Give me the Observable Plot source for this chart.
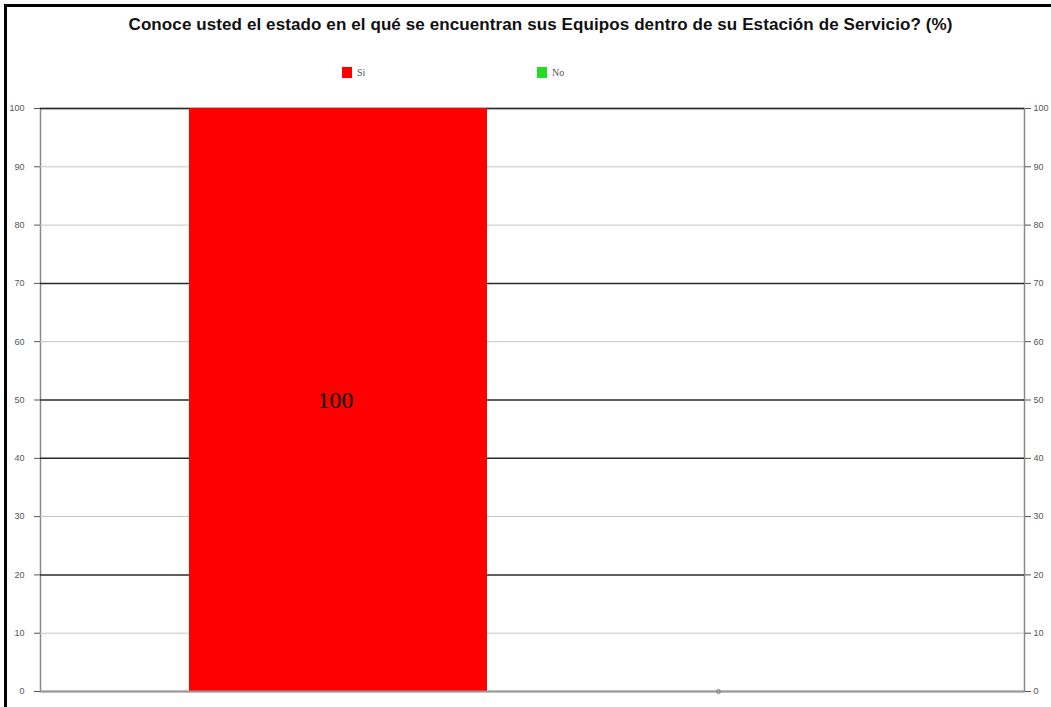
<!DOCTYPE html>
<html>
<head>
<meta charset="utf-8">
<script src="https://cdn.jsdelivr.net/npm/d3@7"></script>
<script src="https://cdn.jsdelivr.net/npm/@observablehq/plot@0.6"></script>
<style>
  html, body { margin: 0; padding: 0; background: #fff; }
  #wrap { position: relative; width: 1051px; height: 707px; overflow: hidden; background: #fff; }
  #border { position: absolute; left: 4px; top: 4px; right: -10px; bottom: -10px; border-left: 3px solid #000; border-top: 3px solid #000; pointer-events: none; }
  #title { position: absolute; top: 15px; left: 30px; width: 1021px; text-align: center; font: bold 17px "Liberation Sans", Arial, sans-serif; color: #111; letter-spacing: 0.1px; }
  .leg { position: absolute; top: 67px; font: 10px "Liberation Serif", serif; color: #555; display: flex; align-items: center; }
  .leg span.sw { display: inline-block; width: 10px; height: 11px; margin-right: 5px; }
  #chart { position: absolute; left: 0; top: 0; }
</style>
</head>
<body>
<div id="wrap">
  <div id="chart"></div>
  <div id="title"></div>
  <div id="legend"></div>
  <div id="border"></div>
</div>
<script>
const title = "Conoce usted el estado en el qué se encuentran sus Equipos dentro de su Estación de Servicio? (%)";
const categories = ["Si", "No"];
const values = [100, 0];
const colors = ["#ff0000", "#22dd22"];
const legendLeft = [342, 537];
const yTicks = [0, 10, 20, 30, 40, 50, 60, 70, 80, 90, 100];
const darkGrid = [100, 70, 50, 40, 20];
const lightGrid = [90, 80, 60, 30, 10];

const data = categories.map((c, i) => ({cat: c, val: values[i]}));

document.getElementById("title").textContent = title;
const legend = document.getElementById("legend");
categories.forEach((c, i) => {
  const d = document.createElement("div");
  d.className = "leg";
  d.style.left = legendLeft[i] + "px";
  d.innerHTML = `<span class="sw" style="background:${colors[i]}"></span>${c}`;
  legend.appendChild(d);
});

const chart = Plot.plot({
  width: 1051,
  height: 707,
  marginTop: 108,
  marginBottom: 16,
  marginLeft: 40,
  marginRight: 27,
  style: {background: "transparent", fontFamily: "Liberation Sans, Arial, sans-serif"},
  x: {type: "band", domain: categories, range: [189, 785], padding: 0, axis: null},
  y: {domain: [0, 100]},
  color: {domain: categories, range: colors},
  marks: [
    Plot.frame({stroke: "#8a8a8a", strokeWidth: 1.5}),
    Plot.ruleY(lightGrid, {stroke: "#c4c4c4", strokeWidth: 1}),
    Plot.ruleY(darkGrid, {stroke: "#2a2a2a", strokeWidth: 1.5}),
    Plot.barY(data, {x: "cat", y: "val", fill: "cat", inset: 0}),
    Plot.ruleY([0], {stroke: "#9a9a9a", strokeWidth: 2}),
    Plot.axisY({anchor: "left", ticks: yTicks, tickSize: 6, tickPadding: 10, fontSize: 9, color: "#555", label: null, tickFormat: d => d}),
    Plot.axisY({anchor: "right", ticks: yTicks, tickSize: 6, tickPadding: 3, fontSize: 9, color: "#555", label: null, tickFormat: d => d}),
    Plot.text(data.filter(d => d.val > 0), {x: "cat", y: d => d.val / 2, text: d => String(d.val), fontSize: 24, fontFamily: "Liberation Serif, Times New Roman, serif", fill: "#000", dx: -3}),
    Plot.text(data.filter(d => d.val === 0), {x: "cat", y: "val", text: d => String(d.val), fontSize: 8, fill: "#666", dx: 82})
  ]
});
document.getElementById("chart").appendChild(chart);
</script>
</body>
</html>
